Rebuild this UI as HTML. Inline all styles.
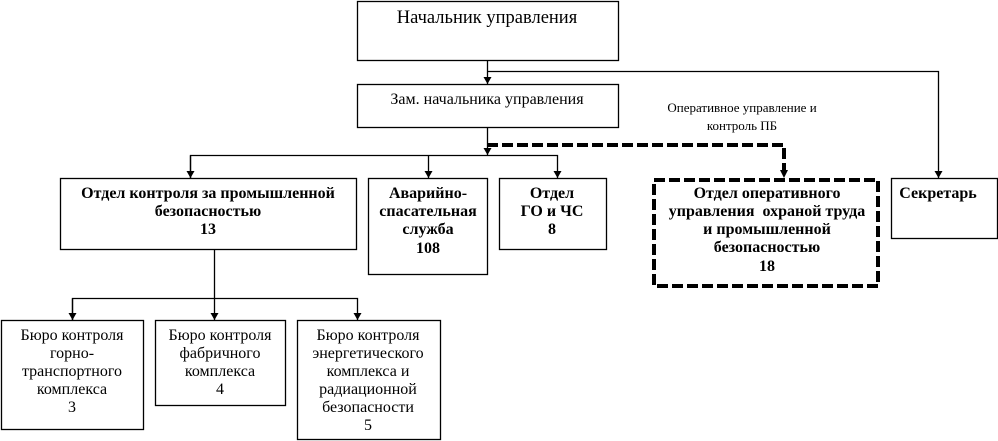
<!DOCTYPE html>
<html><head><meta charset="utf-8"><style>
html,body{margin:0;padding:0;background:#fff;}
svg{display:block;}
text{font-family:"Liberation Serif",serif;fill:#000;text-anchor:middle;}
.b{font-weight:bold;font-size:16px;}
.n{font-size:16px;}
</style></head><body>
<svg width="998" height="441" viewBox="0 0 998 441">
<defs><marker id="a" markerWidth="8" markerHeight="8" refX="4" refY="7" orient="0" markerUnits="userSpaceOnUse"><path d="M0,0 L8,0 L4,7 Z" fill="#000"/></marker></defs>
<g fill="none" stroke="#000" stroke-width="1.3">
<rect x="357.5" y="1.5" width="261" height="59"/>
<rect x="357.5" y="84.5" width="261" height="43"/>
<rect x="60.5" y="178.5" width="296" height="71"/>
<rect x="368.5" y="178.5" width="119" height="96"/>
<rect x="499.5" y="178.5" width="107" height="71"/>
<rect x="891.5" y="178.5" width="106" height="60"/>
<rect x="1.5" y="320.5" width="142" height="109"/>
<rect x="155.5" y="320.5" width="130" height="85"/>
<rect x="297.5" y="320.5" width="143" height="119"/>
<path d="M487.5 61 V84" marker-end="url(#a)"/>
<path d="M487.5 71.5 H938.5 V178" marker-end="url(#a)"/>
<path d="M487.5 128 V155" marker-end="url(#a)"/>
<path d="M190.5 178 V155.5 H557.5 V178" marker-end="url(#a)"/>
<path d="M190.5 155.5 V178" marker-end="url(#a)"/>
<path d="M428.5 155.5 V178" marker-end="url(#a)"/>
<path d="M214.5 250 V298.5"/>
<path d="M72.5 320 V298.5 H357.5 V320" marker-end="url(#a)"/>
<path d="M72.5 298.5 V320" marker-end="url(#a)"/>
<path d="M214.5 298.5 V320" marker-end="url(#a)"/>
</g>
<rect x="660" y="95" width="165" height="40" fill="#fff"/>
<g fill="none" stroke="#000" stroke-width="4" stroke-dasharray="11,4">
<path d="M487 145 H784 V170"/>
<rect x="654" y="180" width="224" height="106"/>
</g>
<path d="M780 170 L788 170 L784 178 Z" fill="#000"/>
<text x="487" y="23" style="font-size:18.5px">Начальник управления</text>
<text x="487" y="104" style="font-size:16px">Зам. начальника управления</text>
<text x="742" y="112" style="font-size:13px">Оперативное управление и</text>
<text x="742" y="130" style="font-size:13px">контроль ПБ</text>
<text class="b" x="208" y="198">Отдел контроля за промышленной</text>
<text class="b" x="208" y="216">безопасностью</text>
<text class="b" x="208" y="234">13</text>
<text class="b" x="428" y="198">Аварийно-</text>
<text class="b" x="428" y="216">спасательная</text>
<text class="b" x="428" y="234">служба</text>
<text class="b" x="428" y="253">108</text>
<text class="b" x="552" y="198">Отдел</text>
<text class="b" x="552" y="216">ГО и ЧС</text>
<text class="b" x="552" y="234">8</text>
<text class="b" x="767" y="198">Отдел оперативного</text>
<text class="b" x="767" y="216">управления&#160; охраной труда</text>
<text class="b" x="767" y="234">и промышленной</text>
<text class="b" x="767" y="252">безопасностью</text>
<text class="b" x="767" y="271">18</text>
<text class="b" x="938" y="198">Секретарь</text>
<text class="n" x="72" y="340">Бюро контроля</text>
<text class="n" x="72" y="358">горно-</text>
<text class="n" x="72" y="376">транспортного</text>
<text class="n" x="72" y="394">комплекса</text>
<text class="n" x="72" y="412">3</text>
<text class="n" x="220" y="340">Бюро контроля</text>
<text class="n" x="220" y="358">фабричного</text>
<text class="n" x="220" y="376">комплекса</text>
<text class="n" x="220" y="394">4</text>
<text class="n" x="368" y="340">Бюро контроля</text>
<text class="n" x="368" y="358">энергетического</text>
<text class="n" x="368" y="376">комплекса и</text>
<text class="n" x="368" y="394">радиационной</text>
<text class="n" x="368" y="412">безопасности</text>
<text class="n" x="368" y="430">5</text>
</svg>
</body></html>
